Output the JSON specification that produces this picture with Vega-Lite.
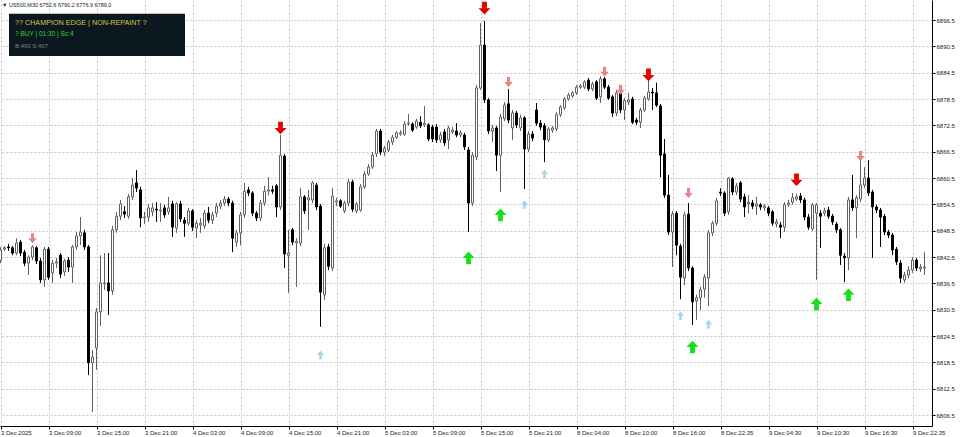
{
"$schema":"https://vega.github.io/schema/vega-lite/v6.json",
"width":932,"height":426,"autosize":{"type":"none"},"padding":{"left":0,"top":0,"right":28,"bottom":11},"background":"white",
"config":{"view":{"stroke":null},"font":"Liberation Sans"},
"resolve":{"scale":{"color":"independent","size":"independent","shape":"independent"}},
"datasets":{
"bars":[
{"i":0,"o":6841.8,"h":6844.8,"l":6841.1,"c":6844.1},
{"i":1,"o":6844.3,"h":6845.0,"l":6843.9,"c":6844.6},
{"i":2,"o":6844.8,"h":6845.5,"l":6843.9,"c":6844.6},
{"i":3,"o":6844.6,"h":6845.0,"l":6842.9,"c":6843.4},
{"i":4,"o":6843.4,"h":6846.8,"l":6842.9,"c":6845.7},
{"i":5,"o":6845.9,"h":6846.4,"l":6842.7,"c":6843.4},
{"i":6,"o":6843.6,"h":6844.1,"l":6840.4,"c":6841.1},
{"i":7,"o":6841.1,"h":6842.9,"l":6838.4,"c":6842.5},
{"i":8,"o":6842.5,"h":6845.2,"l":6841.8,"c":6844.8},
{"i":9,"o":6844.6,"h":6845.0,"l":6840.9,"c":6841.6},
{"i":10,"o":6841.6,"h":6842.3,"l":6836.6,"c":6837.3},
{"i":11,"o":6837.3,"h":6844.8,"l":6835.7,"c":6844.3},
{"i":12,"o":6844.3,"h":6844.8,"l":6837.3,"c":6837.9},
{"i":13,"o":6838.9,"h":6841.8,"l":6836.6,"c":6841.1},
{"i":14,"o":6841.1,"h":6842.3,"l":6840.0,"c":6841.4},
{"i":15,"o":6842.9,"h":6843.4,"l":6837.7,"c":6838.6},
{"i":16,"o":6839.1,"h":6842.1,"l":6838.2,"c":6841.6},
{"i":17,"o":6841.8,"h":6842.5,"l":6839.1,"c":6840.2},
{"i":18,"o":6840.2,"h":6845.2,"l":6836.6,"c":6844.8},
{"i":19,"o":6844.8,"h":6848.2,"l":6844.1,"c":6847.3},
{"i":20,"o":6847.3,"h":6851.6,"l":6845.2,"c":6848.2},
{"i":21,"o":6848.0,"h":6848.7,"l":6844.1,"c":6844.8},
{"i":22,"o":6844.8,"h":6845.2,"l":6815.6,"c":6818.4},
{"i":23,"o":6818.4,"h":6821.3,"l":6807.2,"c":6819.7},
{"i":24,"o":6821.8,"h":6830.9,"l":6816.8,"c":6830.0},
{"i":25,"o":6830.0,"h":6842.9,"l":6826.8,"c":6836.6},
{"i":26,"o":6836.4,"h":6843.4,"l":6835.0,"c":6836.6},
{"i":27,"o":6836.6,"h":6843.4,"l":6829.3,"c":6834.8},
{"i":28,"o":6834.8,"h":6849.6,"l":6833.9,"c":6848.7},
{"i":29,"o":6848.7,"h":6852.8,"l":6848.0,"c":6851.8},
{"i":30,"o":6851.8,"h":6855.5,"l":6850.9,"c":6854.6},
{"i":31,"o":6852.8,"h":6854.1,"l":6851.4,"c":6852.3},
{"i":32,"o":6851.8,"h":6856.9,"l":6851.2,"c":6856.2},
{"i":33,"o":6856.2,"h":6860.5,"l":6855.5,"c":6858.9},
{"i":34,"o":6859.4,"h":6862.3,"l":6857.3,"c":6858.2},
{"i":35,"o":6857.8,"h":6858.5,"l":6849.3,"c":6851.4},
{"i":36,"o":6851.4,"h":6852.8,"l":6850.0,"c":6851.6},
{"i":37,"o":6851.6,"h":6854.6,"l":6850.5,"c":6853.7},
{"i":38,"o":6852.8,"h":6854.8,"l":6851.8,"c":6853.7},
{"i":39,"o":6853.4,"h":6855.0,"l":6850.5,"c":6853.2},
{"i":40,"o":6853.0,"h":6854.8,"l":6850.5,"c":6853.2},
{"i":41,"o":6853.7,"h":6854.4,"l":6851.4,"c":6852.1},
{"i":42,"o":6852.8,"h":6856.2,"l":6852.1,"c":6853.7},
{"i":43,"o":6854.6,"h":6855.3,"l":6847.1,"c":6849.3},
{"i":44,"o":6849.1,"h":6855.0,"l":6848.0,"c":6854.6},
{"i":45,"o":6854.6,"h":6855.3,"l":6850.5,"c":6851.2},
{"i":46,"o":6850.9,"h":6851.6,"l":6847.1,"c":6850.2},
{"i":47,"o":6850.2,"h":6853.7,"l":6849.6,"c":6853.0},
{"i":48,"o":6853.0,"h":6853.4,"l":6848.4,"c":6849.3},
{"i":49,"o":6849.1,"h":6850.9,"l":6846.8,"c":6850.2},
{"i":50,"o":6849.8,"h":6851.4,"l":6848.0,"c":6850.2},
{"i":51,"o":6849.6,"h":6853.2,"l":6848.9,"c":6852.5},
{"i":52,"o":6852.5,"h":6853.9,"l":6850.2,"c":6850.9},
{"i":53,"o":6850.9,"h":6852.8,"l":6850.0,"c":6852.1},
{"i":54,"o":6852.5,"h":6854.8,"l":6851.6,"c":6854.1},
{"i":55,"o":6854.1,"h":6855.5,"l":6853.4,"c":6854.8},
{"i":56,"o":6854.8,"h":6856.4,"l":6854.1,"c":6855.7},
{"i":57,"o":6855.7,"h":6856.2,"l":6854.1,"c":6854.8},
{"i":58,"o":6854.8,"h":6855.3,"l":6843.6,"c":6846.8},
{"i":59,"o":6845.9,"h":6848.7,"l":6844.8,"c":6848.0},
{"i":60,"o":6848.0,"h":6852.8,"l":6845.2,"c":6852.1},
{"i":61,"o":6852.1,"h":6859.4,"l":6851.4,"c":6857.5},
{"i":62,"o":6857.8,"h":6858.5,"l":6856.4,"c":6857.1},
{"i":63,"o":6857.1,"h":6857.5,"l":6851.8,"c":6852.5},
{"i":64,"o":6852.5,"h":6853.0,"l":6850.7,"c":6851.4},
{"i":65,"o":6851.4,"h":6855.5,"l":6850.7,"c":6854.8},
{"i":66,"o":6854.8,"h":6858.7,"l":6854.1,"c":6857.5},
{"i":67,"o":6857.5,"h":6860.7,"l":6856.6,"c":6857.8},
{"i":68,"o":6857.8,"h":6858.7,"l":6856.9,"c":6857.5},
{"i":69,"o":6858.7,"h":6859.1,"l":6851.6,"c":6853.9},
{"i":70,"o":6853.9,"h":6870.3,"l":6853.2,"c":6865.7},
{"i":71,"o":6865.5,"h":6866.0,"l":6840.0,"c":6843.2},
{"i":72,"o":6842.9,"h":6848.7,"l":6834.3,"c":6843.4},
{"i":73,"o":6848.7,"h":6849.1,"l":6845.2,"c":6845.9},
{"i":74,"o":6845.7,"h":6846.8,"l":6835.7,"c":6846.1},
{"i":75,"o":6845.7,"h":6858.2,"l":6845.0,"c":6856.2},
{"i":76,"o":6856.2,"h":6856.6,"l":6852.3,"c":6853.0},
{"i":77,"o":6855.5,"h":6857.8,"l":6848.7,"c":6856.0},
{"i":78,"o":6855.5,"h":6859.8,"l":6854.8,"c":6859.4},
{"i":79,"o":6858.9,"h":6859.4,"l":6853.2,"c":6853.9},
{"i":80,"o":6854.1,"h":6854.6,"l":6826.6,"c":6834.5},
{"i":81,"o":6833.9,"h":6845.5,"l":6832.7,"c":6844.6},
{"i":82,"o":6844.8,"h":6845.5,"l":6839.5,"c":6840.4},
{"i":83,"o":6840.0,"h":6858.2,"l":6839.3,"c":6856.4},
{"i":84,"o":6855.0,"h":6856.0,"l":6854.1,"c":6855.3},
{"i":85,"o":6855.3,"h":6855.7,"l":6853.7,"c":6854.1},
{"i":86,"o":6853.0,"h":6855.3,"l":6852.5,"c":6854.8},
{"i":87,"o":6854.8,"h":6860.3,"l":6854.1,"c":6859.6},
{"i":88,"o":6859.6,"h":6860.1,"l":6852.8,"c":6853.4},
{"i":89,"o":6853.0,"h":6855.0,"l":6852.5,"c":6854.6},
{"i":90,"o":6853.2,"h":6859.1,"l":6852.8,"c":6858.5},
{"i":91,"o":6858.5,"h":6862.1,"l":6858.0,"c":6861.4},
{"i":92,"o":6861.4,"h":6863.7,"l":6861.0,"c":6863.0},
{"i":93,"o":6863.0,"h":6866.4,"l":6862.6,"c":6865.7},
{"i":94,"o":6866.0,"h":6871.7,"l":6865.3,"c":6871.2},
{"i":95,"o":6871.2,"h":6871.7,"l":6865.7,"c":6866.4},
{"i":96,"o":6866.4,"h":6867.8,"l":6865.5,"c":6867.3},
{"i":97,"o":6866.9,"h":6869.2,"l":6866.4,"c":6868.7},
{"i":98,"o":6868.7,"h":6870.3,"l":6868.0,"c":6869.8},
{"i":99,"o":6869.8,"h":6871.2,"l":6869.4,"c":6870.8},
{"i":100,"o":6870.5,"h":6871.4,"l":6870.1,"c":6870.8},
{"i":101,"o":6870.5,"h":6873.5,"l":6870.1,"c":6872.8},
{"i":102,"o":6872.8,"h":6875.1,"l":6872.4,"c":6873.0},
{"i":103,"o":6872.8,"h":6873.2,"l":6871.0,"c":6871.4},
{"i":104,"o":6872.1,"h":6874.0,"l":6871.7,"c":6873.5},
{"i":105,"o":6873.2,"h":6874.6,"l":6871.9,"c":6872.4},
{"i":106,"o":6872.6,"h":6876.9,"l":6872.1,"c":6873.0},
{"i":107,"o":6872.6,"h":6873.0,"l":6868.9,"c":6869.4},
{"i":108,"o":6872.1,"h":6872.6,"l":6868.7,"c":6869.4},
{"i":109,"o":6872.1,"h":6872.8,"l":6868.5,"c":6869.2},
{"i":110,"o":6869.2,"h":6871.0,"l":6868.5,"c":6870.3},
{"i":111,"o":6871.0,"h":6871.7,"l":6867.8,"c":6868.5},
{"i":112,"o":6869.2,"h":6872.4,"l":6867.1,"c":6871.9},
{"i":113,"o":6871.0,"h":6872.1,"l":6870.5,"c":6871.4},
{"i":114,"o":6871.2,"h":6873.0,"l":6869.8,"c":6870.3},
{"i":115,"o":6870.3,"h":6871.4,"l":6869.8,"c":6870.8},
{"i":116,"o":6870.3,"h":6870.8,"l":6866.9,"c":6867.6},
{"i":117,"o":6866.9,"h":6867.6,"l":6848.2,"c":6854.8},
{"i":118,"o":6854.8,"h":6866.4,"l":6854.1,"c":6865.7},
{"i":119,"o":6865.3,"h":6881.7,"l":6864.6,"c":6881.0},
{"i":120,"o":6881.0,"h":6895.8,"l":6880.6,"c":6890.8},
{"i":121,"o":6890.8,"h":6896.3,"l":6877.6,"c":6878.3},
{"i":122,"o":6878.3,"h":6878.7,"l":6870.5,"c":6871.2},
{"i":123,"o":6871.2,"h":6872.6,"l":6868.7,"c":6871.9},
{"i":124,"o":6871.9,"h":6872.4,"l":6862.1,"c":6865.7},
{"i":125,"o":6865.7,"h":6875.1,"l":6857.3,"c":6874.4},
{"i":126,"o":6874.0,"h":6877.8,"l":6873.5,"c":6877.1},
{"i":127,"o":6877.4,"h":6880.8,"l":6873.0,"c":6873.7},
{"i":128,"o":6871.9,"h":6876.0,"l":6869.2,"c":6875.3},
{"i":129,"o":6875.3,"h":6875.8,"l":6871.9,"c":6872.6},
{"i":130,"o":6871.9,"h":6874.9,"l":6871.2,"c":6874.2},
{"i":131,"o":6874.2,"h":6874.6,"l":6858.0,"c":6867.1},
{"i":132,"o":6867.1,"h":6871.2,"l":6866.4,"c":6870.5},
{"i":133,"o":6870.5,"h":6871.2,"l":6868.9,"c":6869.6},
{"i":134,"o":6876.0,"h":6877.6,"l":6872.4,"c":6873.0},
{"i":135,"o":6873.0,"h":6873.7,"l":6871.4,"c":6872.1},
{"i":136,"o":6872.4,"h":6873.0,"l":6864.1,"c":6869.2},
{"i":137,"o":6869.2,"h":6872.1,"l":6868.7,"c":6871.7},
{"i":138,"o":6871.4,"h":6872.4,"l":6870.8,"c":6871.9},
{"i":139,"o":6871.7,"h":6875.5,"l":6871.2,"c":6874.9},
{"i":140,"o":6874.9,"h":6877.1,"l":6874.4,"c":6876.7},
{"i":141,"o":6876.5,"h":6879.0,"l":6876.0,"c":6878.5},
{"i":142,"o":6878.5,"h":6879.9,"l":6878.1,"c":6879.4},
{"i":143,"o":6879.2,"h":6880.3,"l":6878.7,"c":6879.9},
{"i":144,"o":6879.9,"h":6881.7,"l":6879.4,"c":6881.2},
{"i":145,"o":6881.2,"h":6881.9,"l":6880.8,"c":6881.5},
{"i":146,"o":6881.2,"h":6882.8,"l":6880.8,"c":6882.4},
{"i":147,"o":6882.8,"h":6883.3,"l":6880.3,"c":6880.8},
{"i":148,"o":6880.8,"h":6882.4,"l":6880.3,"c":6881.9},
{"i":149,"o":6882.4,"h":6882.8,"l":6878.3,"c":6878.7},
{"i":150,"o":6879.0,"h":6883.7,"l":6877.6,"c":6883.1},
{"i":151,"o":6883.1,"h":6883.5,"l":6880.8,"c":6881.2},
{"i":152,"o":6881.2,"h":6881.7,"l":6878.3,"c":6878.7},
{"i":153,"o":6879.0,"h":6879.4,"l":6874.4,"c":6875.3},
{"i":154,"o":6875.3,"h":6880.6,"l":6874.6,"c":6879.9},
{"i":155,"o":6879.9,"h":6880.6,"l":6875.3,"c":6876.0},
{"i":156,"o":6876.0,"h":6878.7,"l":6873.7,"c":6878.1},
{"i":157,"o":6877.8,"h":6879.9,"l":6877.1,"c":6878.3},
{"i":158,"o":6878.5,"h":6879.0,"l":6872.8,"c":6873.2},
{"i":159,"o":6873.7,"h":6874.2,"l":6872.6,"c":6873.2},
{"i":160,"o":6873.2,"h":6876.5,"l":6871.9,"c":6876.0},
{"i":161,"o":6876.0,"h":6879.2,"l":6875.5,"c":6878.7},
{"i":162,"o":6878.5,"h":6883.3,"l":6878.1,"c":6880.1},
{"i":163,"o":6880.1,"h":6881.0,"l":6876.0,"c":6879.9},
{"i":164,"o":6879.9,"h":6882.2,"l":6876.7,"c":6877.1},
{"i":165,"o":6876.9,"h":6877.4,"l":6860.7,"c":6865.7},
{"i":166,"o":6866.0,"h":6869.4,"l":6856.0,"c":6856.6},
{"i":167,"o":6856.6,"h":6861.2,"l":6847.5,"c":6848.2},
{"i":168,"o":6848.2,"h":6853.0,"l":6840.2,"c":6852.3},
{"i":169,"o":6852.5,"h":6853.0,"l":6842.9,"c":6845.2},
{"i":170,"o":6845.0,"h":6845.5,"l":6832.9,"c":6837.9},
{"i":171,"o":6837.7,"h":6852.8,"l":6836.1,"c":6852.1},
{"i":172,"o":6852.3,"h":6854.8,"l":6839.3,"c":6840.0},
{"i":173,"o":6840.0,"h":6840.4,"l":6827.0,"c":6832.3},
{"i":174,"o":6832.5,"h":6833.9,"l":6828.2,"c":6833.2},
{"i":175,"o":6833.2,"h":6835.7,"l":6830.4,"c":6835.0},
{"i":176,"o":6835.2,"h":6838.6,"l":6833.2,"c":6837.9},
{"i":177,"o":6837.7,"h":6848.7,"l":6831.3,"c":6848.0},
{"i":178,"o":6848.0,"h":6850.7,"l":6847.3,"c":6850.2},
{"i":179,"o":6850.2,"h":6856.0,"l":6849.6,"c":6855.3},
{"i":180,"o":6857.3,"h":6858.2,"l":6856.4,"c":6857.1},
{"i":181,"o":6857.1,"h":6857.5,"l":6851.8,"c":6852.5},
{"i":182,"o":6852.8,"h":6860.7,"l":6852.1,"c":6860.5},
{"i":183,"o":6860.3,"h":6860.7,"l":6856.6,"c":6857.3},
{"i":184,"o":6857.3,"h":6859.4,"l":6856.6,"c":6858.7},
{"i":185,"o":6859.4,"h":6859.8,"l":6855.0,"c":6855.7},
{"i":186,"o":6856.2,"h":6856.9,"l":6851.6,"c":6853.9},
{"i":187,"o":6854.6,"h":6856.6,"l":6852.5,"c":6855.0},
{"i":188,"o":6854.8,"h":6855.5,"l":6853.4,"c":6854.1},
{"i":189,"o":6854.1,"h":6856.2,"l":6852.1,"c":6854.6},
{"i":190,"o":6854.4,"h":6854.8,"l":6853.2,"c":6853.9},
{"i":191,"o":6853.7,"h":6854.6,"l":6853.0,"c":6854.1},
{"i":192,"o":6853.7,"h":6854.1,"l":6851.8,"c":6852.5},
{"i":193,"o":6852.8,"h":6853.2,"l":6849.6,"c":6850.2},
{"i":194,"o":6850.0,"h":6851.2,"l":6849.3,"c":6850.5},
{"i":195,"o":6849.8,"h":6850.5,"l":6846.8,"c":6849.3},
{"i":196,"o":6849.3,"h":6855.0,"l":6848.2,"c":6854.4},
{"i":197,"o":6854.4,"h":6855.5,"l":6853.9,"c":6854.8},
{"i":198,"o":6855.0,"h":6857.1,"l":6854.4,"c":6856.0},
{"i":199,"o":6855.7,"h":6856.9,"l":6855.3,"c":6856.2},
{"i":200,"o":6856.4,"h":6857.1,"l":6854.8,"c":6855.5},
{"i":201,"o":6855.5,"h":6856.0,"l":6850.9,"c":6851.6},
{"i":202,"o":6851.6,"h":6852.3,"l":6848.7,"c":6849.3},
{"i":203,"o":6848.9,"h":6854.8,"l":6848.4,"c":6854.4},
{"i":204,"o":6852.5,"h":6854.8,"l":6837.3,"c":6854.4},
{"i":205,"o":6852.5,"h":6853.2,"l":6844.6,"c":6851.8},
{"i":206,"o":6852.5,"h":6853.7,"l":6851.8,"c":6853.0},
{"i":207,"o":6853.2,"h":6853.9,"l":6851.2,"c":6851.8},
{"i":208,"o":6851.8,"h":6852.3,"l":6849.8,"c":6850.5},
{"i":209,"o":6850.0,"h":6850.5,"l":6848.0,"c":6848.7},
{"i":210,"o":6848.7,"h":6849.1,"l":6840.7,"c":6842.9},
{"i":211,"o":6842.7,"h":6843.4,"l":6836.8,"c":6842.3},
{"i":212,"o":6842.3,"h":6856.2,"l":6839.5,"c":6855.5},
{"i":213,"o":6855.5,"h":6861.2,"l":6853.0,"c":6853.7},
{"i":214,"o":6853.7,"h":6856.6,"l":6846.8,"c":6856.0},
{"i":215,"o":6855.7,"h":6864.6,"l":6855.0,"c":6858.9},
{"i":216,"o":6858.9,"h":6863.0,"l":6858.2,"c":6860.5},
{"i":217,"o":6860.5,"h":6864.6,"l":6856.4,"c":6857.1},
{"i":218,"o":6857.3,"h":6857.8,"l":6842.3,"c":6853.9},
{"i":219,"o":6853.9,"h":6854.4,"l":6852.5,"c":6853.2},
{"i":220,"o":6853.2,"h":6853.7,"l":6844.8,"c":6851.6},
{"i":221,"o":6851.8,"h":6852.3,"l":6847.5,"c":6848.2},
{"i":222,"o":6848.2,"h":6848.7,"l":6846.8,"c":6847.5},
{"i":223,"o":6847.5,"h":6848.0,"l":6842.9,"c":6844.1},
{"i":224,"o":6844.3,"h":6844.8,"l":6840.7,"c":6841.4},
{"i":225,"o":6841.1,"h":6841.8,"l":6836.6,"c":6837.7},
{"i":226,"o":6837.3,"h":6839.1,"l":6836.6,"c":6838.4},
{"i":227,"o":6838.4,"h":6840.4,"l":6837.7,"c":6839.5},
{"i":228,"o":6839.5,"h":6842.5,"l":6838.9,"c":6841.8},
{"i":229,"o":6841.8,"h":6842.3,"l":6839.3,"c":6840.0},
{"i":230,"o":6839.8,"h":6840.9,"l":6839.1,"c":6840.2},
{"i":231,"o":6840.0,"h":6843.6,"l":6838.4,"c":6840.2}
],
"arrows":[
{"i":8,"p":6846.8,"k":"sell"},
{"i":70,"p":6871.9,"k":"strong sell"},
{"i":80,"p":6820.2,"k":"buy"},
{"i":117,"p":6842.3,"k":"strong buy"},
{"i":121,"p":6899.2,"k":"strong sell"},
{"i":127,"p":6882.4,"k":"sell"},
{"i":125,"p":6852.1,"k":"strong buy"},
{"i":131,"p":6854.4,"k":"buy"},
{"i":136,"p":6861.4,"k":"buy"},
{"i":151,"p":6884.7,"k":"sell"},
{"i":155,"p":6880.6,"k":"sell"},
{"i":162,"p":6884.0,"k":"strong sell"},
{"i":172,"p":6857.1,"k":"sell"},
{"i":170,"p":6829.1,"k":"buy"},
{"i":173,"p":6822.0,"k":"strong buy"},
{"i":177,"p":6827.2,"k":"buy"},
{"i":199,"p":6860.1,"k":"strong sell"},
{"i":204,"p":6831.8,"k":"strong buy"},
{"i":212,"p":6833.9,"k":"strong buy"},
{"i":215,"p":6865.5,"k":"sell"}
],
"panel":[{"x1":2.125,"x2":46.125,"top":6897.9,"bottom":6888.3}],
"notes":[
{"role":"head","x":0.375,"y":6899.9,"t":"▼ US500,M30  6752.6 6790.2 6776.9 6789.0"},
{"role":"title","x":3.625,"y":6895.8,"t":"?? CHAMPION EDGE | NON-REPAINT ?"},
{"role":"signal","x":3.625,"y":6893.3,"t":"? BUY | 01:30 | Sc:4"},
{"role":"stats","x":3.625,"y":6890.6,"t":"B:493 S:407"}
]
},
"layer":[
{"data":{"name":"bars"},"mark":{"type":"rule","strokeWidth":1},
 "encoding":{
  "x":{"field":"i","type":"quantitative","scale":{"domain":[-0.125,232.875],"nice":false,"zero":false,"padding":0},
   "axis":{"orient":"bottom","title":null,"values":[0,12,24,36,48,60,72,84,96,108,120,132,144,156,168,180,192,204,216,228],"tickCount":40,
    "labelExpr":"['3 Dec 2025','3 Dec 09:00','3 Dec 15:00','3 Dec 21:00','4 Dec 03:00','4 Dec 09:00','4 Dec 15:00','4 Dec 21:00','5 Dec 03:00','5 Dec 09:00','5 Dec 15:00','5 Dec 21:00','8 Dec 04:00','8 Dec 10:00','8 Dec 16:00','8 Dec 22:35','9 Dec 04:30','9 Dec 10:30','9 Dec 16:30','9 Dec 22:35'][round(datum.value/12)]",
    "grid":true,"gridDash":[2,2],"gridColor":"#c4c4c4","gridWidth":1,"domainColor":"#000","domainWidth":1,"tickColor":"#000","tickSize":3,
    "labelAlign":"left","labelBaseline":"top","labelPadding":0,"labelFontSize":6,"labelColor":"#222","labelFlush":false,"labelOverlap":false,"labelBound":false}},
  "y":{"field":"l","type":"quantitative","scale":{"domain":[6804.0,6901.06],"nice":false,"zero":false,"padding":0},
   "axis":{"orient":"right","title":null,"values":[6806.5,6812.5,6818.5,6824.5,6830.5,6836.5,6842.5,6848.5,6854.5,6860.5,6866.5,6872.5,6878.5,6884.5,6890.5,6896.5],"tickCount":40,
    "format":".1f","grid":true,"gridDash":[2,2],"gridColor":"#c4c4c4","gridWidth":1,"domainColor":"#000","domainWidth":1,"tickColor":"#000","tickSize":3,
    "labelPadding":1,"labelFontSize":6,"labelColor":"#222","labelBaseline":"middle","labelOverlap":false,"labelFlush":false}},
  "y2":{"field":"h"},
  "color":{"condition":{"test":"datum.c < datum.o","value":"#000000"},"value":"#606060"}
 }},
{"data":{"name":"bars"},"mark":{"type":"bar","size":2,"strokeWidth":1},
 "encoding":{
  "x":{"field":"i","type":"quantitative"},
  "y":{"field":"o","type":"quantitative"},
  "y2":{"field":"c"},
  "fill":{"condition":{"test":"datum.c < datum.o","value":"#000000"},"value":"#ffffff"},
  "stroke":{"condition":{"test":"datum.c < datum.o","value":"#000000"},"value":"#606060"}
 }},
{"data":{"name":"arrows"},"mark":{"type":"point","filled":true,"opacity":1,"strokeWidth":0},
 "encoding":{
  "x":{"field":"i","type":"quantitative"},
  "y":{"field":"p","type":"quantitative"},
  "shape":{"field":"k","type":"nominal","legend":null,"scale":{"domain":["strong sell","sell","strong buy","buy"],
    "range":["M-0.38,-1L0.38,-1L0.38,0L0.95,0L0,1L-0.95,0L-0.38,0Z","M-0.3,-1L0.3,-1L0.3,0L0.85,0L0,1L-0.85,0L-0.3,0Z","M-0.38,1L0.38,1L0.38,0L0.95,0L0,-1L-0.95,0L-0.38,0Z","M-0.3,1L0.3,1L0.3,0L0.85,0L0,-1L-0.85,0L-0.3,0Z"]}},
  "color":{"field":"k","type":"nominal","legend":null,"scale":{"domain":["strong sell","sell","strong buy","buy"],"range":["#e40000","#e98585","#16e016","#a9d3e8"]}},
  "size":{"field":"k","type":"nominal","legend":null,"scale":{"type":"ordinal","domain":["strong sell","sell","strong buy","buy"],"range":[160,100,160,72]}}
 }},
{"data":{"name":"panel"},"mark":{"type":"rect","color":"#0c1820"},
 "encoding":{
  "x":{"field":"x1","type":"quantitative"},"x2":{"field":"x2"},
  "y":{"field":"top","type":"quantitative"},"y2":{"field":"bottom"}
 }},
{"data":{"name":"notes"},"mark":{"type":"text","align":"left","baseline":"middle","font":"Liberation Sans"},
 "encoding":{
  "x":{"field":"x","type":"quantitative"},
  "y":{"field":"y","type":"quantitative"},
  "text":{"field":"t"},
  "color":{"field":"role","type":"nominal","legend":null,"scale":{"domain":["head","title","signal","stats"],"range":["#222222","#d6c44c","#2ed42e","#7d8388"]}},
  "size":{"field":"role","type":"nominal","legend":null,"scale":{"type":"ordinal","domain":["head","title","signal","stats"],"range":[5.5,7.2,6.5,6]}}
 }}
]
}
